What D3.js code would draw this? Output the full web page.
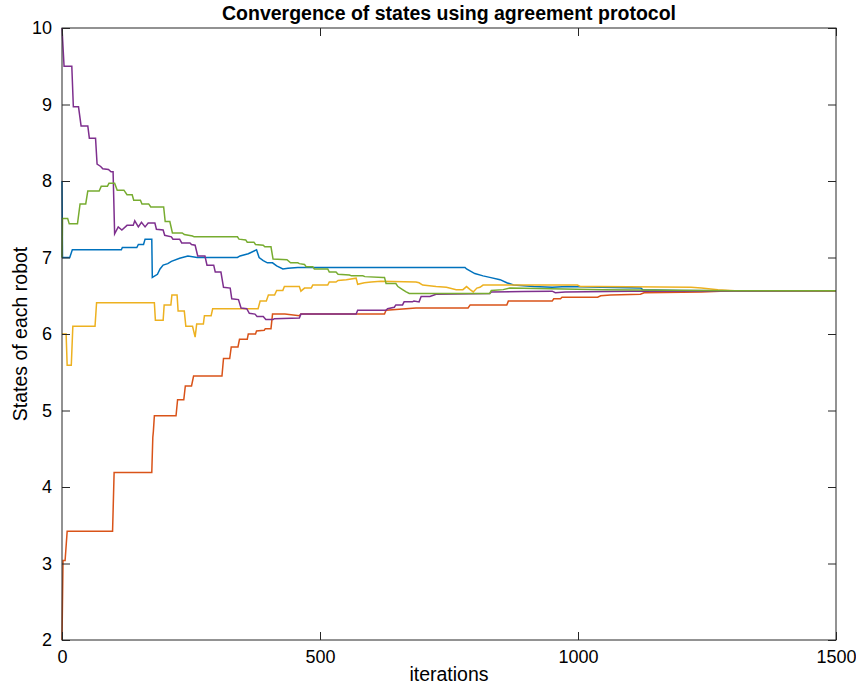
<!DOCTYPE html>
<html>
<head>
<meta charset="utf-8">
<script src="https://cdn.jsdelivr.net/npm/d3@7"></script>
<style>
  html, body { margin: 0; padding: 0; background: #fff; }
  svg { display: block; font-family: "Liberation Sans", Arial, Helvetica, sans-serif; }
</style>
</head>
<body>
<svg id="chart" width="856" height="686"></svg>
<script>
// ---------------- data ----------------
const titleText = "Convergence of states using agreement protocol";
const xLabel = "iterations";
const yLabel = "States of each robot";
const xTicks = [0, 500, 1000, 1500];
const yTicks = [2, 3, 4, 5, 6, 7, 8, 9, 10];
const seriesNames = ["robot1", "robot2", "robot3", "robot4", "robot5"];
const seriesColors = ["#0072BD", "#D95319", "#EDB120", "#7E2F8E", "#77AC30"];

// [iteration, state]
const robot1 = [[0,8.0],[1,7.0],[15,7.0],[20,7.1],[115,7.1],[117,7.13],[145,7.13],[148,7.17],[158,7.17],[161,7.24],[174,7.24],[175,6.74],[185,6.78],[190,6.85],[196,6.90],[205,6.92],[212,6.95],[228,6.99],[244,7.02],[262,7.0],[340,7.0],[345,7.02],[361,7.05],[377,7.1],[382,7.0],[390,6.96],[398,6.93],[408,6.93],[416,6.89],[428,6.85],[438,6.86],[457,6.87],[781,6.87],[784,6.85],[800,6.79],[816,6.76],[829,6.74],[849,6.71],[862,6.67],[875,6.64],[914,6.62],[950,6.61],[979,6.62],[1044,6.61],[1122,6.6],[1125,6.58],[1200,6.57],[1300,6.565],[1500,6.565]];
const robot2 = [[0,2.0],[2,3.04],[6,3.04],[10,3.42],[98,3.42],[101,4.19],[174,4.19],[176,4.65],[177,4.72],[179,4.93],[221,4.93],[224,5.14],[236,5.14],[239,5.32],[251,5.32],[255,5.45],[310,5.45],[313,5.68],[325,5.68],[328,5.83],[341,5.83],[344,5.93],[359,5.93],[361,6.0],[375,6.0],[377,6.04],[392,6.05],[394,6.07],[405,6.07],[408,6.26],[432,6.26],[460,6.24],[463,6.26],[625,6.26],[628,6.31],[686,6.34],[787,6.34],[791,6.38],[862,6.38],[865,6.43],[950,6.43],[953,6.46],[966,6.46],[969,6.48],[1038,6.48],[1044,6.50],[1063,6.51],[1121,6.52],[1128,6.54],[1239,6.55],[1300,6.565],[1500,6.565]];
const robot3 = [[0,6.0],[8,6.0],[10,5.59],[18,5.59],[21,6.10],[64,6.10],[67,6.41],[179,6.41],[181,6.18],[196,6.18],[198,6.38],[211,6.38],[213,6.51],[223,6.51],[225,6.30],[237,6.30],[240,6.10],[253,6.10],[258,5.96],[261,6.13],[274,6.13],[276,6.24],[289,6.24],[292,6.33],[380,6.33],[384,6.43],[396,6.43],[400,6.51],[412,6.51],[416,6.57],[428,6.57],[431,6.62],[460,6.62],[463,6.56],[470,6.60],[483,6.60],[486,6.64],[515,6.64],[518,6.68],[531,6.68],[535,6.70],[551,6.71],[570,6.73],[573,6.65],[586,6.67],[599,6.68],[618,6.69],[686,6.68],[692,6.67],[699,6.64],[725,6.62],[745,6.61],[764,6.58],[777,6.58],[784,6.62],[791,6.58],[797,6.55],[804,6.60],[810,6.61],[816,6.64],[999,6.64],[1005,6.62],[1038,6.62],[1219,6.61],[1239,6.60],[1271,6.58],[1304,6.565],[1500,6.565]];
const robot4 = [[0,10],[4,9.5],[19,9.5],[22,8.97],[32,8.97],[37,8.72],[50,8.72],[53,8.56],[65,8.56],[68,8.22],[75,8.19],[79,8.16],[90,8.15],[95,8.12],[99,8.12],[102,7.31],[109,7.40],[116,7.36],[126,7.42],[138,7.42],[141,7.48],[148,7.40],[154,7.46],[161,7.40],[167,7.45],[180,7.45],[183,7.37],[196,7.36],[199,7.29],[212,7.27],[215,7.24],[228,7.24],[232,7.19],[248,7.19],[251,7.17],[258,7.16],[263,7.02],[277,7.02],[281,6.90],[294,6.90],[297,6.81],[308,6.81],[313,6.61],[326,6.60],[329,6.46],[342,6.45],[347,6.34],[358,6.33],[363,6.27],[374,6.26],[378,6.23],[390,6.23],[395,6.19],[409,6.19],[412,6.20],[460,6.21],[463,6.26],[570,6.26],[573,6.31],[628,6.31],[631,6.33],[644,6.35],[647,6.38],[660,6.38],[663,6.42],[679,6.42],[682,6.43],[692,6.42],[696,6.49],[713,6.49],[725,6.52],[829,6.53],[832,6.55],[894,6.555],[950,6.56],[956,6.54],[975,6.55],[1100,6.56],[1500,6.565]];
const robot5 = [[0,7.0],[1,7.51],[11,7.51],[14,7.44],[30,7.44],[35,7.70],[46,7.70],[50,7.87],[72,7.87],[76,7.93],[88,7.93],[91,7.97],[102,7.97],[107,7.88],[120,7.88],[126,7.82],[136,7.82],[139,7.75],[152,7.75],[155,7.70],[168,7.70],[172,7.66],[197,7.66],[200,7.47],[209,7.47],[214,7.32],[233,7.32],[237,7.30],[253,7.28],[256,7.27],[340,7.27],[343,7.24],[356,7.23],[359,7.20],[372,7.20],[375,7.17],[390,7.16],[393,7.14],[405,7.14],[409,6.98],[436,6.97],[443,6.93],[457,6.93],[460,6.92],[470,6.91],[473,6.88],[486,6.88],[489,6.85],[515,6.85],[518,6.81],[531,6.81],[535,6.78],[557,6.77],[561,6.76],[583,6.76],[587,6.75],[622,6.74],[625,6.74],[628,6.66],[647,6.66],[651,6.62],[660,6.58],[667,6.55],[673,6.53],[829,6.53],[832,6.57],[855,6.58],[868,6.60],[946,6.59],[1050,6.58],[1300,6.565],[1500,6.565]];
const allSeries = [robot1, robot2, robot3, robot4, robot5];

// ---------------- layout ----------------
const svg = d3.select("#chart");
const L = 62, R = 836, T = 28, B = 640;
const axisColor = "#262626";

const x = d3.scaleLinear().domain([0, 1500]).range([L, R]);
const y = d3.scaleLinear().domain([2, 10]).range([B, T]);

// white plot background
svg.append("rect").attr("x", L).attr("y", T).attr("width", R - L).attr("height", B - T).attr("fill", "#fff");

// data lines
const line = d3.line().x(d => x(d[0])).y(d => y(d[1]));
const gLines = svg.append("g");
allSeries.forEach((s, i) => {
  gLines.append("path")
    .datum(s)
    .attr("d", line)
    .attr("fill", "none")
    .attr("stroke", seriesColors[i])
    .attr("stroke-width", 1.5)
    .attr("stroke-linejoin", "miter");
});

// axes
function styleAxis(g) {
  g.select(".domain").remove();
  g.selectAll(".tick line").attr("stroke", axisColor).attr("stroke-width", 1);
  g.selectAll(".tick text").attr("fill", "#000").style("font-size", "18px")
    .style("font-family", '"Liberation Sans", Arial, Helvetica, sans-serif');
}
svg.append("g").attr("transform", `translate(0,${B})`)
  .call(d3.axisBottom(x).tickValues(xTicks).tickSize(-8).tickPadding(10).tickFormat(d3.format("d")))
  .call(styleAxis);
svg.append("g").attr("transform", `translate(0,${T})`)
  .call(d3.axisTop(x).tickValues(xTicks).tickSize(-8).tickFormat(""))
  .call(styleAxis);
svg.append("g").attr("transform", `translate(${L},0)`)
  .call(d3.axisLeft(y).tickValues(yTicks).tickSize(-8).tickPadding(10).tickFormat(d3.format("d")))
  .call(styleAxis);
svg.append("g").attr("transform", `translate(${R},0)`)
  .call(d3.axisRight(y).tickValues(yTicks).tickSize(-8).tickFormat(""))
  .call(styleAxis);

// box
svg.append("rect").attr("x", L).attr("y", T).attr("width", R - L).attr("height", B - T)
  .attr("fill", "none").attr("stroke", axisColor).attr("stroke-width", 1);

// title & labels
svg.append("text").attr("x", (L + R) / 2).attr("y", 20).attr("text-anchor", "middle")
  .style("font-size", "19.5px").style("font-weight", "bold").attr("fill", "#000").text(titleText);
svg.append("text").attr("x", (L + R) / 2).attr("y", 681).attr("text-anchor", "middle")
  .style("font-size", "19.5px").attr("fill", "#000").text(xLabel);
svg.append("text").attr("transform", `translate(27,${(T + B) / 2}) rotate(-90)`).attr("text-anchor", "middle")
  .style("font-size", "19.5px").attr("fill", "#000").text(yLabel);
</script>
</body>
</html>
